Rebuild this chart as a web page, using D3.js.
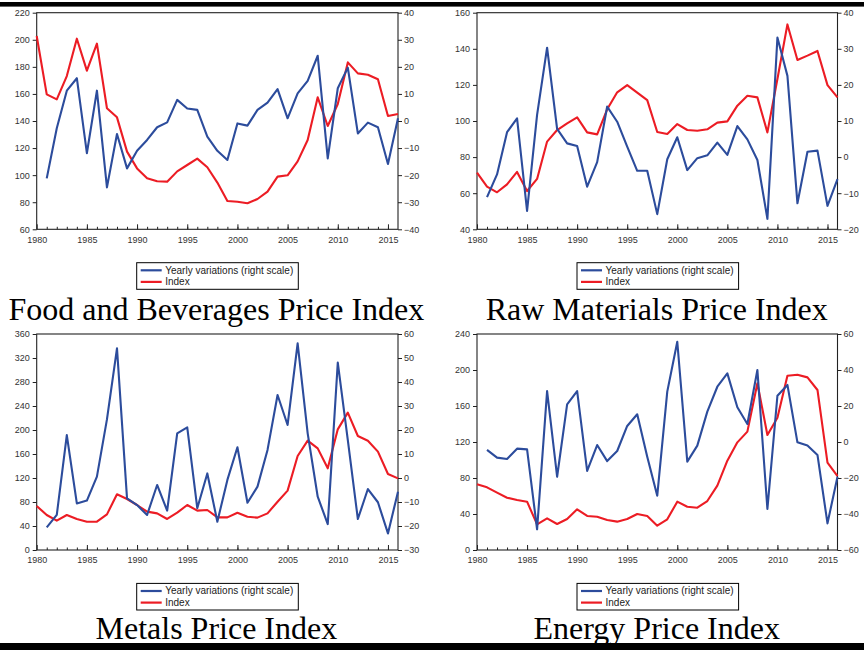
<!DOCTYPE html>
<html><head><meta charset="utf-8">
<script src="https://cdn.jsdelivr.net/npm/d3@7"></script>
<style>
html,body{margin:0;padding:0;background:#fff;}
svg{display:block;}
</style></head>
<body>
<script>
// ---------- DATA ----------
const years = d3.range(1980, 2017);       // Index years
const varYears = d3.range(1981, 2017);    // Yearly variation years
const xTickYears = [1980,1985,1990,1995,2000,2005,2010,2015];

const foodIndex = [202.8,159.7,156,173.2,200.8,177.2,197.1,149.4,142.7,117.4,105.0,97.7,95.5,95.2,102.8,107.5,112.2,105.8,94.5,80.9,80.4,79.2,82.4,87.8,98.9,99.9,110.2,126.0,157.5,136.3,152.6,183.3,175.2,174.2,170.8,143.7,145.2];
const foodVar = [-21.2,-2.7,11.2,15.8,-11.9,11.2,-24.5,-4.8,-17.5,-11.0,-7.0,-2.3,-0.5,7.8,4.6,4.1,-5.8,-11.0,-14.4,-0.9,-1.7,4.1,6.8,11.8,1.0,10.2,14.8,24.1,-13.8,12.1,19.7,-4.6,-0.6,-2.3,-15.9,1.0];

const rawIndex = [71.4,63.6,60.5,64.9,71.8,61.2,67.9,88.6,95.0,98.7,102.0,93.7,92.6,106.5,115.9,119.9,115.7,111.6,93.9,92.8,98.3,95.0,94.6,95.4,99.1,99.8,108.5,114.0,113.1,93.7,123.3,153.5,133.8,136.2,138.8,119.9,113.1];
const rawVar = [-11.1,-4.8,6.9,10.7,-14.9,11.7,30.3,7.8,3.8,3.1,-8.2,-1.4,14.0,9.8,2.9,-3.8,-3.8,-15.8,-0.6,5.5,-3.6,-0.3,0.5,4.0,0.6,8.6,4.9,-0.8,-17.1,33.1,22.5,-12.8,1.5,1.8,-13.5,-6.1];

const metalsIndex = [73.3,58.3,48.9,58.3,51.7,47.2,47.2,59.4,92.8,85.0,75.0,63.9,61.1,51.7,62.2,75.0,65.6,66.7,54.4,54.4,62.2,55.5,53.9,61.1,80.5,98.9,156.7,182.2,169.4,136.1,201.1,228.9,190.0,182.2,163.9,126.7,119.4];
const metalsVar = [-20.6,-15.4,17.9,-10.6,-9.4,0.6,24.4,54.0,-8.5,-11.3,-15.4,-2.9,-13.6,18.6,21.1,-12.6,1.9,-18.2,-0.8,12.8,-10.3,-3.6,11.7,34.6,22.1,56.1,18.6,-7.8,-19.2,48.1,15.8,-17.1,-4.6,-10.1,-23.1,-5.7];

const energyIndex = [73.0,69.6,63.7,58.1,55.5,53.7,28.5,35.2,28.9,34.4,45.2,37.8,37.0,33.3,31.5,34.4,40.0,37.8,27.0,34.1,53.7,48.1,47.0,54.4,71.5,99.3,119.6,131.5,185.2,127.8,147.0,193.7,194.8,191.8,177.8,97.0,82.2];
const energyVar = [-4.4,-8.7,-9.4,-3.7,-4.1,-48.5,28.3,-19.3,20.9,28.3,-16.1,-1.7,-10.6,-5.0,8.9,15.4,-8.2,-29.8,28.0,55.7,-10.9,-2.0,16.9,30.7,38.1,19.3,10.0,40.0,-37.2,25.7,31.7,-0.2,-2.0,-7.2,-45.2,-19.3];

const titles = ["Food and Beverages Price Index","Raw Materials Price Index","Metals Price Index","Energy Price Index"];
const legendLabels = ["Yearly variations (right scale)","Index"];
const leftDomains = [[60,220],[40,160],[0,360],[0,240]];
const leftSteps = [20,20,40,40];
const rightDomains = [[-40,40],[-20,40],[-30,60],[-60,60]];
const rightSteps = [10,10,10,20];
const indexSeries = [foodIndex, rawIndex, metalsIndex, energyIndex];
const varSeries = [foodVar, rawVar, metalsVar, energyVar];

// ---------- LAYOUT ----------
const W = 864, H = 650;
const BLUE = "#2c4c9c", RED = "#ec1c24", AXIS = "#222", TXT = "#333";
const boxes = [
  {l:36.7, r:398, t:12.7, b:229.3},
  {l:477, r:837.5, t:12.7, b:229.3},
  {l:36.7, r:398, t:334, b:550},
  {l:477, r:837.5, t:334, b:550}
];

const svg = d3.select("body").append("svg").attr("width", W).attr("height", H);
svg.append("rect").attr("width", W).attr("height", H).attr("fill", "#fff");

// top / bottom rules
svg.append("rect").attr("x",0).attr("y",2).attr("width",W).attr("height",4.6).attr("fill","#000");
svg.append("rect").attr("x",0).attr("y",643).attr("width",W).attr("height",7).attr("fill","#000");

boxes.forEach((bx, i) => {
  const g = svg.append("g");
  const x = d3.scaleLinear().domain([1980, 2016]).range([bx.l, bx.r]);
  const yL = d3.scaleLinear().domain(leftDomains[i]).range([bx.b, bx.t]);
  const yR = d3.scaleLinear().domain(rightDomains[i]).range([bx.b, bx.t]);
  const lt = d3.range(leftDomains[i][0], leftDomains[i][1] + 0.001, leftSteps[i]);
  const rt = d3.range(rightDomains[i][0], rightDomains[i][1] + 0.001, rightSteps[i]);

  // Left axis
  const axL = g.append("g").attr("transform", `translate(${bx.l},0)`)
    .call(d3.axisLeft(yL).tickValues(lt).tickSize(4).tickSizeOuter(0).tickPadding(3));
  // Right axis
  const axR = g.append("g").attr("transform", `translate(${bx.r},0)`)
    .call(d3.axisRight(yR).tickValues(rt).tickSize(4).tickSizeOuter(0).tickPadding(2).tickFormat(d3.format("d")));
  // Bottom axis: minor ticks inward
  const axBminor = g.append("g").attr("transform", `translate(0,${bx.b})`)
    .call(d3.axisBottom(x).tickValues(d3.range(1981, 2016)).tickSize(-2.5).tickSizeOuter(0).tickFormat(""));
  const axB = g.append("g").attr("transform", `translate(0,${bx.b})`)
    .call(d3.axisBottom(x).tickValues(xTickYears).tickSize(-5).tickSizeOuter(0).tickPadding(7).tickFormat(d3.format("d")));

  [axL, axR, axBminor, axB].forEach(a => {
    a.select(".domain").remove();
    a.selectAll(".tick line").attr("stroke", AXIS).attr("stroke-width", 1);
    a.selectAll(".tick text").attr("fill", TXT).style("font-family", "Arial, 'Liberation Sans', sans-serif").style("font-size", "9px");
  });

  // frame
  g.append("rect").attr("x", bx.l).attr("y", bx.t).attr("width", bx.r - bx.l).attr("height", bx.b - bx.t)
    .attr("fill", "none").attr("stroke", AXIS).attr("stroke-width", 1.1);

  // Index line (left scale)
  g.append("path").datum(indexSeries[i])
    .attr("fill", "none").attr("stroke", RED).attr("stroke-width", 2.1).attr("stroke-linejoin", "round")
    .attr("d", d3.line().x((d, j) => x(years[j])).y(d => yL(d)));
  // Variation line (right scale)
  g.append("path").datum(varSeries[i])
    .attr("fill", "none").attr("stroke", BLUE).attr("stroke-width", 2.1).attr("stroke-linejoin", "round")
    .attr("d", d3.line().x((d, j) => x(varYears[j])).y(d => yR(d)));

  // Legend
  const lx = bx.l + 100, ly = bx.b + 33.4;
  const lg = g.append("g").attr("transform", `translate(${lx},${ly})`);
  lg.append("rect").attr("width", 161.6).attr("height", 26.6).attr("fill", "#fff").attr("stroke", "#000").attr("stroke-width", 1);
  [[BLUE, 7.6, legendLabels[0]], [RED, 19.2, legendLabels[1]]].forEach(([c, yy, t]) => {
    lg.append("line").attr("x1", 4).attr("x2", 25).attr("y1", yy).attr("y2", yy).attr("stroke", c).attr("stroke-width", 2.2);
    lg.append("text").attr("x", 28.5).attr("y", yy + 3.5).text(t)
      .attr("fill", "#222").style("font-family", "Arial, 'Liberation Sans', sans-serif").style("font-size", "10px");
  });

  // Title
  g.append("text").attr("x", (bx.l + bx.r) / 2 + (i % 2 === 0 ? -1 : -0.5)).attr("y", bx.b + (i < 2 ? 90.7 : 88.5))
    .attr("text-anchor", "middle").text(titles[i])
    .attr("fill", "#000").style("font-family", "'Liberation Serif', 'Times New Roman', serif").style("font-size", "32px");
});
</script>
</body></html>
